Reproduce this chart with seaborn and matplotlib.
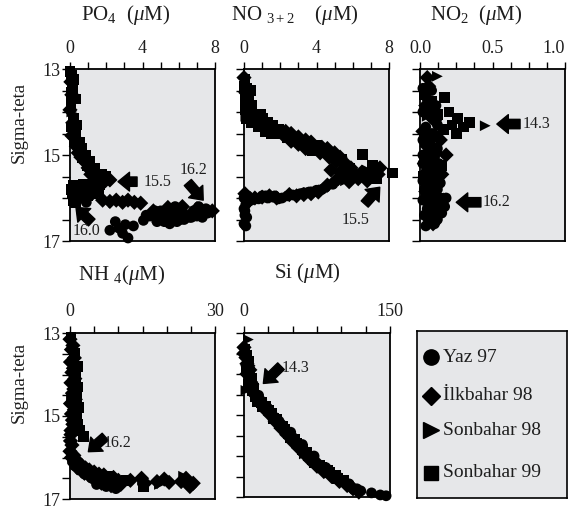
import matplotlib
matplotlib.use("Agg")
import matplotlib.pyplot as plt
import seaborn as sns
import pandas as pd
from matplotlib.ticker import MultipleLocator, FixedLocator, FormatStrFormatter

SEASONS = ["Yaz 97", "İlkbahar 98", "Sonbahar 98", "Sonbahar 99"]
MARKERS = {"Yaz 97": "o", "İlkbahar 98": "D", "Sonbahar 98": ">", "Sonbahar 99": "s"}

# ---------------- PO4 ----------------
po4_y97_x = [2.20, 2.50, 2.70, 2.90, 3.20, 3.05, 3.50, 4.05, 4.40, 5.00, 5.30, 5.70, 6.00, 6.40, 6.80, 7.20, 7.50, 5.60, 6.10, 6.60, 7.00, 5.00, 0.90, 1.10,
             4.2, 4.7, 5.2, 5.5, 5.9, 6.3, 6.7, 7.1, 7.6, 5.8, 6.2, 6.9, 7.3, 5.5, 4.8]
po4_y97_s = [16.75, 16.55, 16.70, 16.82, 16.93, 16.62, 16.65, 16.52, 16.42, 16.48, 16.38, 16.45, 16.35, 16.40, 16.30, 16.35, 16.25, 16.55, 16.50, 16.45, 16.42, 16.30, 16.10, 15.95,
             16.40, 16.30, 16.55, 16.25, 16.55, 16.50, 16.45, 16.20, 16.35, 16.20, 16.30, 16.30, 16.45, 16.60, 16.55]
po4_i98_x = [0.05, 0.10, 0.00, 0.15, 0.10, 0.25, 0.35, 0.45, 0.60, 0.80, 1.00, 1.15, 1.40, 1.70, 1.95, 2.20, 1.80, 2.20, 2.55, 2.90, 3.20, 3.55, 3.90, 4.60, 5.40, 6.20, 7.00, 7.85]
po4_i98_s = [13.30, 13.60, 13.95, 14.25, 14.55, 14.60, 14.80, 14.95, 15.05, 15.15, 15.30, 15.45, 15.50, 15.55, 15.60, 15.58, 16.05, 16.08, 16.05, 16.10, 16.05, 16.10, 16.12, 16.30, 16.22, 16.20, 16.25, 16.30]
po4_s98_x = [0.10, 0.30, 4.80, 5.30, 2.40]
po4_s98_s = [14.00, 14.35, 16.45, 16.50, 16.10]
po4_s99_x = [0.10, 0.15, 0.05, 0.20, 0.30, 0.25, 0.50, 0.70, 0.95, 1.25, 1.55, 0.20, 0.45, 0.75, 1.05, 1.35, 1.65, 0.15, 0.40, 0.70, 1.00, 1.30, 0.20, 0.55,
             0.00, 0.20, 0.10, 0.30, 0.05, 0.35, 0.55, 0.65, 0.85, 1.10, 1.35, 1.75, 1.95, 0.05, 0.30, 0.60, 0.95, 1.25, 1.60]
po4_s99_s = [13.15, 13.45, 13.80, 14.15, 14.45, 14.70, 14.90, 15.05, 15.25, 15.40, 15.55, 15.70, 15.72, 15.68, 15.72, 15.70, 15.68, 15.90, 15.88, 15.85, 15.82, 15.80, 16.05, 16.00,
             13.05, 13.25, 13.55, 13.70, 14.35, 14.30, 14.70, 14.85, 15.00, 15.15, 15.30, 15.45, 15.50, 15.80, 16.10, 15.95, 15.95, 15.90, 15.85]

# ---------------- NO3+2 ----------------
no3_y97_x = [0.00, 0.10, 0.05, 0.15, 0.00, 0.10, 0.20, 1.20, 1.60, 1.90, 2.70, 3.10, 3.50, 3.90, 4.30,
             0.2, 0.4, 0.8, 1.0, 1.3, 1.7, 2.1, 2.4, 3.3, 3.6, 4.0, 4.5, 4.9, 0.05, 0.0]
no3_y97_s = [16.00, 16.15, 16.30, 16.45, 16.60, 16.65, 16.10, 15.95, 15.98, 16.02, 15.93, 15.90, 15.88, 15.85, 15.80,
             15.95, 16.05, 16.02, 15.95, 16.00, 15.95, 16.00, 15.95, 15.88, 15.86, 15.82, 15.75, 15.68, 16.40, 16.25]
no3_i98_x = [0.00, 0.10, 2.20, 2.60, 3.00, 3.40, 4.20, 4.70, 5.10, 5.50, 5.90, 5.30, 5.70, 6.10, 6.50, 6.90, 7.40, 4.60, 5.00, 0.05, 0.30, 0.60, 1.00, 1.40, 1.80, 2.50, 2.90, 3.30, 3.70, 4.10,
             2.3, 2.6, 3.0, 3.4, 3.7, 4.3, 4.6, 5.0, 5.3, 5.6, 6.0, 6.3, 4.8, 5.2, 5.8, 6.8, 7.0, 7.5]
no3_i98_s = [13.20, 13.55, 14.55, 14.68, 14.75, 14.85, 14.95, 15.05, 15.15, 15.20, 15.30, 15.40, 15.50, 15.45, 15.40, 15.50, 15.45, 15.70, 15.62, 15.90, 16.05, 16.00, 15.98, 15.95, 16.00, 15.92, 15.95, 15.92, 15.90, 15.86,
             14.45, 14.50, 14.58, 14.65, 14.70, 14.82, 14.85, 14.95, 15.05, 15.20, 15.40, 15.55, 15.35, 15.55, 15.62, 15.60, 15.45, 15.30]
no3_s98_x = [0.10, 0.30, 6.80, 5.60]
no3_s98_s = [14.10, 13.95, 15.35, 15.60]
no3_s99_x = [0.05, 0.15, 0.25, 0.30, 0.20, 0.45, 0.70, 1.00, 1.30, 1.60, 1.90, 0.40, 0.80, 1.20, 1.50, 2.00, 2.40, 2.80, 3.20, 3.60, 4.00, 3.80, 4.40, 4.90, 5.40, 6.55, 7.10, 8.20, 5.80, 7.30,
             0.0, 0.1, 0.35, 0.05, 0.4, 0.15, 0.6, 0.9]
no3_s99_s = [13.25, 13.45, 13.65, 13.85, 14.00, 14.05, 14.10, 14.15, 14.25, 14.30, 14.40, 14.25, 14.35, 14.45, 14.50, 14.50, 14.60, 14.65, 14.70, 14.75, 14.78, 14.90, 14.90, 15.00, 15.10, 14.98, 15.25, 15.42, 15.30, 15.55,
             13.40, 13.70, 13.50, 13.95, 13.85, 14.15, 14.20, 14.05]

# ---------------- NO2 ----------------
no2_y97_x = [0.03, 0.07, 0.02, 0.06, 0.10, 0.04, 0.08, 0.14, 0.03, 0.07, 0.11, 0.05,
             0.02, 0.08, 0.05, 0.11, 0.02, 0.07, 0.12, 0.04, 0.09, 0.02, 0.07, 0.12, 0.04, 0.10, 0.02, 0.08, 0.13, 0.05, 0.10, 0.02,
             0.07, 0.12, 0.04, 0.09, 0.02, 0.08, 0.14, 0.05, 0.11, 0.17, 0.03, 0.09, 0.15, 0.06, 0.12, 0.18, 0.04, 0.10, 0.07, 0.12]
no2_y97_s = [14.60, 14.75, 15.00, 15.15, 15.30, 15.40, 15.55, 15.65, 15.80, 16.10, 16.15, 16.35,
             13.45, 13.50, 13.70, 13.85, 14.00, 14.10, 14.30, 14.35, 14.50, 14.65, 14.70, 14.85, 15.00, 15.05, 15.20, 15.25, 15.20, 15.40, 15.50, 15.60,
             15.70, 15.80, 15.90, 16.00, 16.05, 16.15, 16.10, 16.25, 16.30, 16.20, 16.40, 16.45, 16.35, 16.55, 16.50, 16.00, 16.65, 16.60, 16.15, 14.55]
no2_i98_x = [0.05, 0.06, 0.04, 0.10, 0.02, 0.08, 0.14, 0.05, 0.11, 0.18, 0.03, 0.09, 0.15, 0.06, 0.12, 0.04, 0.10, 0.16, 0.07, 0.13, 0.05, 0.09]
no2_i98_s = [13.20, 13.40, 13.85, 14.20, 14.45, 14.55, 14.65, 14.80, 14.95, 15.00, 15.20, 15.35, 15.45, 15.60, 15.70, 15.85, 15.95, 16.05, 16.20, 16.30, 16.45, 16.60]
no2_s98_x = [0.12, 0.45, 0.05, 0.10]
no2_s98_s = [13.17, 14.32, 14.10, 15.05]
no2_s99_x = [0.03, 0.08, 0.17, 0.05, 0.12, 0.20, 0.26, 0.34, 0.30, 0.22, 0.16, 0.25, 0.04, 0.10, 0.06, 0.15, 0.02, 0.08, 0.12]
no2_s99_s = [13.60, 13.75, 13.67, 13.95, 14.05, 14.00, 14.15, 14.25, 14.35, 14.30, 14.40, 14.50, 14.70, 14.85, 15.10, 15.25, 15.50, 15.75, 16.00]

# ---------------- NH4 ----------------
nh4_y97_x = [0.5, 1.0, 2.0, 3.0, 4.5, 6.0, 7.5, 9.5, 5.5]
nh4_y97_s = [16.10, 16.20, 16.30, 16.40, 16.50, 16.55, 16.70, 16.75, 16.65]
nh4_i98_x = [0.0, 0.3, 0.1, 0.4, 0.2, 0.5, 0.1, 0.3, 0.6, 0.2, 0.4, 0.8, 1.2, 1.8, 2.5, 3.2, 4.0, 5.0, 6.0, 7.0, 9.0, 10.0, 14.8, 15.5, 18.0, 19.5, 20.5, 23.0, 24.0, 25.5, 24.8, 8.5,
             0.6, 0.9, 0.7, 1.0, 0.8, 1.1, 0.9, 0.5, 0.2, 0.1, 0.0, 0.3,
             1.0, 1.5, 2.2, 3.0, 3.8, 4.6, 5.5, 6.5, 7.5, 8.8, 10.5, 12.5]
nh4_i98_s = [13.15, 13.40, 13.70, 13.95, 14.20, 14.45, 14.70, 14.95, 15.20, 15.45, 15.70, 15.95, 16.05, 16.12, 16.20, 16.25, 16.30, 16.35, 16.40, 16.42, 16.48, 16.55, 16.50, 16.62, 16.58, 16.52, 16.60, 16.58, 16.50, 16.62, 16.70, 16.68,
             13.30, 13.60, 13.85, 14.10, 14.35, 14.60, 14.85, 15.10, 15.35, 15.60, 15.85, 16.00,
             16.15, 16.25, 16.30, 16.38, 16.42, 16.48, 16.55, 16.62, 16.55, 16.60, 16.65, 16.55]
nh4_s98_x = [0.3, 18.5, 15.0, 23.5]
nh4_s98_s = [14.60, 16.65, 16.55, 16.45]
nh4_s99_x = [0.2, 1.0, 1.5, 1.2, 1.6, 1.4, 1.7, 1.3, 1.6, 2.0, 2.8, 11.6, 15.2, 8.0]
nh4_s99_s = [13.10, 13.50, 13.80, 14.05, 14.30, 14.55, 14.80, 15.00, 15.20, 15.35, 15.50, 16.56, 16.70, 16.45]

# ---------------- Si ----------------
si_y97_x = [8, 15, 24, 36, 48, 60, 72, 84, 96, 108, 116, 131, 140, 146, 120]
si_y97_s = [14.35, 14.52, 14.82, 15.15, 15.42, 15.72, 16.00, 16.28, 16.50, 16.68, 16.80, 16.90, 16.95, 16.97, 16.85]
si_i98_x = [0, 2, 4, 3, 7, 10, 14, 20, 25, 31, 37, 43, 49, 55, 61, 67, 74, 81, 89, 97, 104, 110,
            0, 3, 6, 8, 11, 16, 21, 27, 32, 38, 44, 50, 56, 62, 68, 75, 82, 90, 98, 106, 112, 118]
si_i98_s = [13.35, 13.60, 13.80, 14.00, 14.20, 14.45, 14.60, 14.75, 14.90, 15.05, 15.20, 15.38, 15.52, 15.70, 15.85, 16.00, 16.15, 16.30, 16.42, 16.55, 16.65, 16.75,
            13.50, 13.75, 13.90, 14.25, 14.50, 14.62, 14.85, 15.00, 15.15, 15.32, 15.48, 15.65, 15.80, 15.95, 16.10, 16.25, 16.38, 16.50, 16.62, 16.72, 16.80, 16.88]
si_s98_x = [4.5, 2, 30, 62]
si_s98_s = [13.16, 14.40, 15.00, 15.95]
si_s99_x = [1, 3, 5, 2, 6, 8, 4, 9, 12, 18, 22, 28, 34, 40, 46, 52, 58, 64, 70, 78, 86, 94,
            10, 14, 19, 25, 30, 36, 42, 48, 54, 60, 66, 72, 80, 88, 96, 102]
si_s99_s = [13.40, 13.55, 13.70, 13.85, 13.95, 14.10, 14.25, 14.40, 14.55, 14.70, 14.80, 14.95, 15.10, 15.28, 15.45, 15.60, 15.78, 15.92, 16.08, 16.22, 16.35, 16.48,
            14.35, 14.68, 14.80, 14.88, 15.08, 15.22, 15.36, 15.55, 15.68, 15.85, 16.00, 16.15, 16.28, 16.40, 16.55, 16.60]

# tick labels / limits
po4_ticks = [0, 4, 8]
no3_ticks = [0, 4, 8]
no2_ticks = [0.0, 0.5, 1.0]
nh4_ticks = [0, 30]
si_ticks = [0, 150]
sigma_ticks = [13, 15, 17]


def frame(pairs):
    parts = []
    for season, xs, ss in pairs:
        parts.append(pd.DataFrame({"val": xs, "sig": ss, "season": season}))
    return pd.concat(parts, ignore_index=True)


panels = [
    dict(df=frame([("Yaz 97", po4_y97_x, po4_y97_s), ("İlkbahar 98", po4_i98_x, po4_i98_s),
                   ("Sonbahar 98", po4_s98_x, po4_s98_s), ("Sonbahar 99", po4_s99_x, po4_s99_s)]),
         rect=(70, 69, 145, 172), xlim=(0, 8), ticks=po4_ticks, minor=1, fmt="%d", ylab=True,
         title="PO$_4$  ($\\mu$M)", tpos=(126, 20),
         arrows=[((2.65, 15.62), (3.70, 15.62), "15.5", (4.05, 15.62), "left"),
                 ((7.35, 16.05), (6.50, 15.64), "16.2", (6.05, 15.36), "left"),
                 ((0.33, 16.22), (1.20, 16.57), "16.0", (0.12, 16.76), "left")]),
    dict(df=frame([("Yaz 97", no3_y97_x, no3_y97_s), ("İlkbahar 98", no3_i98_x, no3_i98_s),
                   ("Sonbahar 98", no3_s98_x, no3_s98_s), ("Sonbahar 99", no3_s99_x, no3_s99_s)]),
         rect=(244, 69, 145, 172), xlim=(0, 8), ticks=no3_ticks, minor=1, fmt="%d", ylab=False,
         title="NO $_{3+2}$    ($\\mu$M)", tpos=(295, 20),
         arrows=[((7.49, 15.75), (6.66, 16.14), "15.5", (5.40, 16.50), "left")]),
    dict(df=frame([("Yaz 97", no2_y97_x, no2_y97_s), ("İlkbahar 98", no2_i98_x, no2_i98_s),
                   ("Sonbahar 98", no2_s98_x, no2_s98_s), ("Sonbahar 99", no2_s99_x, no2_s99_s)]),
         rect=(420, 69, 145, 172), xlim=(0, 1), ticks=no2_ticks, minor=0.125, fmt="%.1f", ylab=False,
         title="NO$_2$  ($\\mu$M)", tpos=(476, 20),
         arrows=[((0.53, 14.28), (0.69, 14.28), "14.3", (0.705, 14.28), "left"),
                 ((0.25, 16.10), (0.42, 16.10), "16.2", (0.435, 16.10), "left")]),
    dict(df=frame([("Yaz 97", nh4_y97_x, nh4_y97_s), ("İlkbahar 98", nh4_i98_x, nh4_i98_s),
                   ("Sonbahar 98", nh4_s98_x, nh4_s98_s), ("Sonbahar 99", nh4_s99_x, nh4_s99_s)]),
         rect=(70, 333, 145, 166), xlim=(0, 30), ticks=nh4_ticks, minor=5, fmt="%d", ylab=True,
         title="NH $_4$($\\mu$M)", tpos=(122, 280),
         arrows=[((3.8, 15.86), (7.3, 15.50), "16.2", (6.9, 15.66), "left")]),
    dict(df=frame([("Yaz 97", si_y97_x, si_y97_s), ("İlkbahar 98", si_i98_x, si_i98_s),
                   ("Sonbahar 98", si_s98_x, si_s98_s), ("Sonbahar 99", si_s99_x, si_s99_s)]),
         rect=(244, 333, 146, 164), xlim=(0, 150), ticks=si_ticks, minor=25, fmt="%d", ylab=False,
         title="Si ($\\mu$M)", tpos=(307, 278),
         arrows=[((19.9, 14.23), (38.0, 13.81), "14.3", (38.5, 13.86), "left")]),
]

sns.set_theme(style="ticks")
plt.rcParams.update({
    "font.family": ["Liberation Serif", "DejaVu Serif"],
    "mathtext.fontset": "custom",
    "mathtext.rm": "Liberation Serif",
    "mathtext.it": "Liberation Serif:italic",
    "mathtext.bf": "Liberation Serif:bold",
})

W, H = 574, 517
fig = plt.figure(figsize=(W / 100, H / 100), dpi=100)
fig.patch.set_facecolor("white")
BG = "#e6e7e9"
INK = "#1e1e1e"


def add_axes_px(left, top, width, height):
    return fig.add_axes([left / W, 1 - (top + height) / H, width / W, height / H])


axes = []
for p in panels:
    ax = add_axes_px(*p["rect"])
    axes.append(ax)
    ax.set_facecolor(BG)
    sns.scatterplot(data=p["df"], x="val", y="sig", style="season", style_order=SEASONS,
                    markers=MARKERS, color="black", s=60, linewidth=0, legend=False,
                    ax=ax, clip_on=False, zorder=3)
    ax.set_xlim(*p["xlim"])
    ax.set_ylim(17, 13)
    ax.xaxis.tick_top()
    ax.xaxis.set_major_locator(FixedLocator(p["ticks"]))
    ax.xaxis.set_minor_locator(MultipleLocator(p["minor"]))
    ax.xaxis.set_major_formatter(FormatStrFormatter(p["fmt"]))
    ax.yaxis.set_major_locator(FixedLocator(sigma_ticks))
    ax.yaxis.set_minor_locator(MultipleLocator(0.5))
    ax.set_xlabel("")
    ax.set_ylabel("")
    ax.tick_params(axis="x", which="both", top=True, bottom=False, labeltop=True, labelbottom=False,
                   direction="out", length=5, width=1, color="black", labelsize=13, pad=4,
                   labelcolor=INK)
    ax.tick_params(axis="y", which="both", left=True, right=False, labelleft=p["ylab"],
                   direction="out", length=6, width=1, color="black", labelsize=13, pad=1,
                   labelcolor=INK)
    for sp in ax.spines.values():
        sp.set_visible(True)
        sp.set_color("black")
        sp.set_linewidth(1.3)
    for tip, tail, label, tpos, ha in p["arrows"]:
        ax.annotate("", xy=tip, xytext=tail, annotation_clip=False,
                    arrowprops=dict(arrowstyle="simple,head_length=0.55,head_width=0.9,tail_width=0.45",
                                    color="black", shrinkA=0, shrinkB=0, mutation_scale=15))
        ax.text(tpos[0], tpos[1], label, ha=ha, va="center", fontsize=11.5, color=INK)
    fig.text(p["tpos"][0] / W, 1 - p["tpos"][1] / H, p["title"], ha="center", va="baseline",
             fontsize=15, color=INK)

# keep the last NO2 tick label inside the figure
fig.canvas.draw()
axes[2].xaxis.get_major_ticks()[-1].label2.set_horizontalalignment("right")

fig.text(19 / W, 1 - 122 / H, "Sigma-teta", rotation=90, ha="center", va="center", fontsize=13.5, color=INK)
fig.text(19 / W, 1 - 382 / H, "Sigma-teta", rotation=90, ha="center", va="center", fontsize=13.5, color=INK)

# legend panel
lax = add_axes_px(417, 331, 150, 167)
lax.set_facecolor(BG)
lax.set_xlim(0, 1)
lax.set_ylim(0, 1)
lax.set_xticks([])
lax.set_yticks([])
for sp in lax.spines.values():
    sp.set_color("black")
    sp.set_linewidth(1.2)
leg_y = [0.844, 0.611, 0.407, 0.152]
leg_ms = {"Yaz 97": 11, "İlkbahar 98": 9, "Sonbahar 98": 11, "Sonbahar 99": 10.5}
for season, yy in zip(SEASONS, leg_y):
    lax.plot([0.095], [yy], marker=MARKERS[season], color="black", markersize=leg_ms[season],
             linestyle="none")
    lax.text(0.175, yy, season, ha="left", va="center", fontsize=14, color=INK)

fig.savefig("out.png", dpi=100)
